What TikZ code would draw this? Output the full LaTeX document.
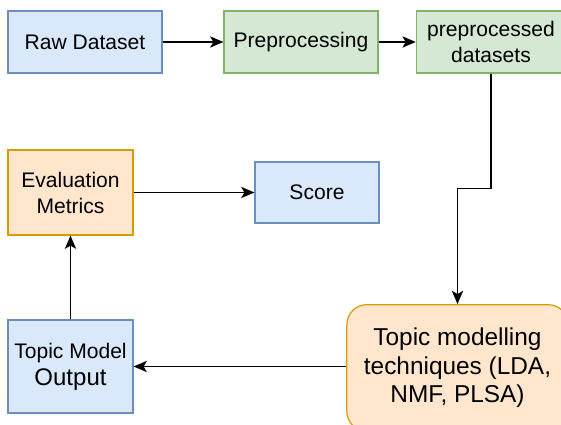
\documentclass[tikz,border=0pt]{standalone}
\usepackage{fontspec}
\setmainfont{Liberation Sans}
\usetikzlibrary{arrows.meta}

\definecolor{bluefill}{HTML}{DAE8FC}
\definecolor{bluedraw}{HTML}{6C8EBF}
\definecolor{greenfill}{HTML}{D5E8D4}
\definecolor{greendraw}{HTML}{82B366}
\definecolor{orangefill}{HTML}{FFE6CC}
\definecolor{orangedraw}{HTML}{D79B00}

\begin{document}
\begin{tikzpicture}[x=0.75pt, y=-0.75pt,
    box/.style={rectangle, draw, line width=0.9pt, align=center, inner sep=0pt,
      font=\fontsize{15.8}{19.5}\selectfont},
    bluebox/.style={box, fill=bluefill, draw=bluedraw},
    greenbox/.style={box, fill=greenfill, draw=greendraw},
    orangebox/.style={box, fill=orangefill, draw=orangedraw},
    arr/.style={draw, line width=0.9pt, -{Stealth[length=10pt, width=8.5pt, inset=2.5pt]}}]
    \useasboundingbox (0,0) rectangle (561,425);

    \node[bluebox, minimum width=115.5pt, minimum height=46.5pt] (raw) at (85,42) {Raw Dataset};
    \node[greenbox, minimum width=115.5pt, minimum height=46.5pt] (prep) at (301,42) {Preprocessing};
    \node[greenbox, minimum width=112pt, minimum height=46.5pt] (pped) at (491,42) {preprocessed\\datasets};
    \node[orangebox, minimum width=93.75pt, minimum height=63.75pt] (eval) at (70.5,192.5) {Evaluation\\Metrics};
    \node[bluebox, minimum width=93pt, minimum height=45.75pt] (score) at (317,192.5) {Score};
    \node[bluebox, minimum width=93.75pt, minimum height=69.75pt] (out) at (70.5,366.5)
      {Topic Model\\[0.6pt]{\fontsize{18}{21}\selectfont Output}};
    \node[orangebox, rounded corners=15pt, minimum width=166pt, minimum height=95pt,
      font=\fontsize{18.3}{21.3}\selectfont] (tech) at (457.5,368)
      {Topic modelling\\techniques (LDA,\\NMF, PLSA)};

    \draw[arr] (raw) -- (prep);
    \draw[arr] (prep) -- (pped);
    \draw[arr] (pped.south) -- ++(0,115) -| (tech.north);
    \draw[arr] (tech.west |- out) -- (out);
    \draw[arr] (out) -- (eval);
    \draw[arr] (eval) -- (score);
\end{tikzpicture}
\end{document}
